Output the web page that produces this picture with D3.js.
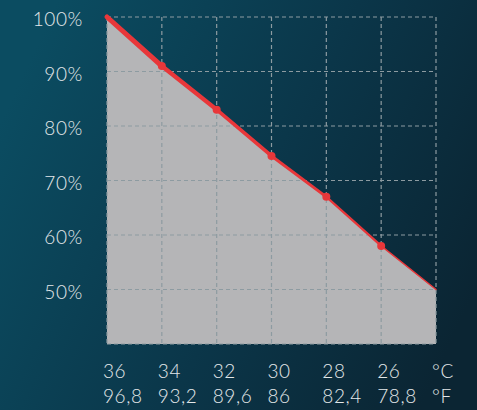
<!DOCTYPE html>
<html>
<head>
<meta charset="utf-8">
<script src="https://cdn.jsdelivr.net/npm/d3@7"></script>
<style>
  html, body { margin: 0; padding: 0; background: #0b3a4c; }
  #app { width: 477px; height: 410px; }
</style>
</head>
<body>
<div id="app"></div>
<script>
// temperatures (°C), their °F labels and the relative value in %
const tempsC = [36, 34, 32, 30, 28, 26, 24];
const labelsC = ['36', '34', '32', '30', '28', '26', '°C'];
const labelsF = ['96,8', '93,2', '89,6', '86', '82,4', '78,8', '°F'];
const values = [100, 91, 83, 74.5, 67, 58, 50];
const yTicks = [50, 60, 70, 80, 90, 100];

const width = 477;
const height = 410;
const margin = { top: 17, right: 41, bottom: 66, left: 107 };

const svg = d3.select('#app').append('svg')
    .attr('width', width)
    .attr('height', height);

// background gradient
const grad = svg.append('defs').append('linearGradient')
    .attr('id', 'bg')
    .attr('x1', '0%').attr('y1', '30%')
    .attr('x2', '100%').attr('y2', '70%');
grad.append('stop').attr('offset', '0%').attr('stop-color', '#0b4c61');
grad.append('stop').attr('offset', '55%').attr('stop-color', '#0b3649');
grad.append('stop').attr('offset', '100%').attr('stop-color', '#0b2533');

svg.append('rect')
    .attr('width', width)
    .attr('height', height)
    .attr('fill', 'url(#bg)');

const x = d3.scaleLinear()
    .domain([36, 24])
    .range([margin.left, width - margin.right]);

const y = d3.scaleLinear()
    .domain([40, 100])
    .range([height - margin.bottom, margin.top]);

// area
const data = tempsC.map((t, i) => ({ t, v: values[i] }));

svg.append('path')
    .datum(data)
    .attr('fill', '#b5b5b7')
    .attr('d', d3.area()
        .x(d => x(d.t))
        .y0(y(40))
        .y1(d => y(d.v)));

// dashed grid
const grid = svg.append('g')
    .attr('stroke', '#8d9ba1')
    .attr('stroke-width', 1.2)
    .attr('stroke-dasharray', '4,3');

grid.selectAll('.h')
    .data([40, ...yTicks])
    .join('line')
    .attr('x1', x(36)).attr('x2', x(24))
    .attr('y1', d => y(d)).attr('y2', d => y(d));

grid.selectAll('.v')
    .data(tempsC)
    .join('line')
    .attr('x1', d => x(d)).attr('x2', d => x(d))
    .attr('y1', y(100)).attr('y2', y(40));

// red line, getting thinner towards the end
const lineG = svg.append('g').attr('stroke', '#e8373a').attr('stroke-linecap', 'round');
d3.pairs(data).forEach(([a, b], i) => {
    lineG.append('line')
        .attr('x1', x(a.t)).attr('y1', y(a.v))
        .attr('x2', x(b.t)).attr('y2', y(b.v))
        .attr('stroke-width', 5 - i * 0.7);
});

// markers
svg.selectAll('circle')
    .data(data.slice(1, -1))
    .join('circle')
    .attr('cx', d => x(d.t))
    .attr('cy', d => y(d.v))
    .attr('r', 4)
    .attr('fill', '#e8373a');

const font = 'Lato, sans-serif';

// y labels
svg.append('g')
    .selectAll('text')
    .data(yTicks)
    .join('text')
    .attr('x', 83)
    .attr('y', d => y(d) + 9)
    .attr('text-anchor', 'end')
    .attr('fill', '#e4e8ea')
    .attr('font-family', font)
    .attr('font-weight', 300)
    .attr('letter-spacing', '0.6px')
    .attr('font-size', '19px')
    .text(d => d + '%');

// x labels
const xl = svg.append('g')
    .attr('fill', '#e4e8ea')
    .attr('font-family', font)
    .attr('font-weight', 300)
    .attr('letter-spacing', '0.6px')
    .attr('font-size', '19px');

xl.selectAll('.c')
    .data(tempsC)
    .join('text')
    .attr('x', d => x(d) - 4)
    .attr('y', 378)
    .text((d, i) => labelsC[i]);

xl.selectAll('.f')
    .data(tempsC)
    .join('text')
    .attr('x', d => x(d) - 4)
    .attr('y', 403)
    .text((d, i) => labelsF[i]);
</script>
</body>
</html>
